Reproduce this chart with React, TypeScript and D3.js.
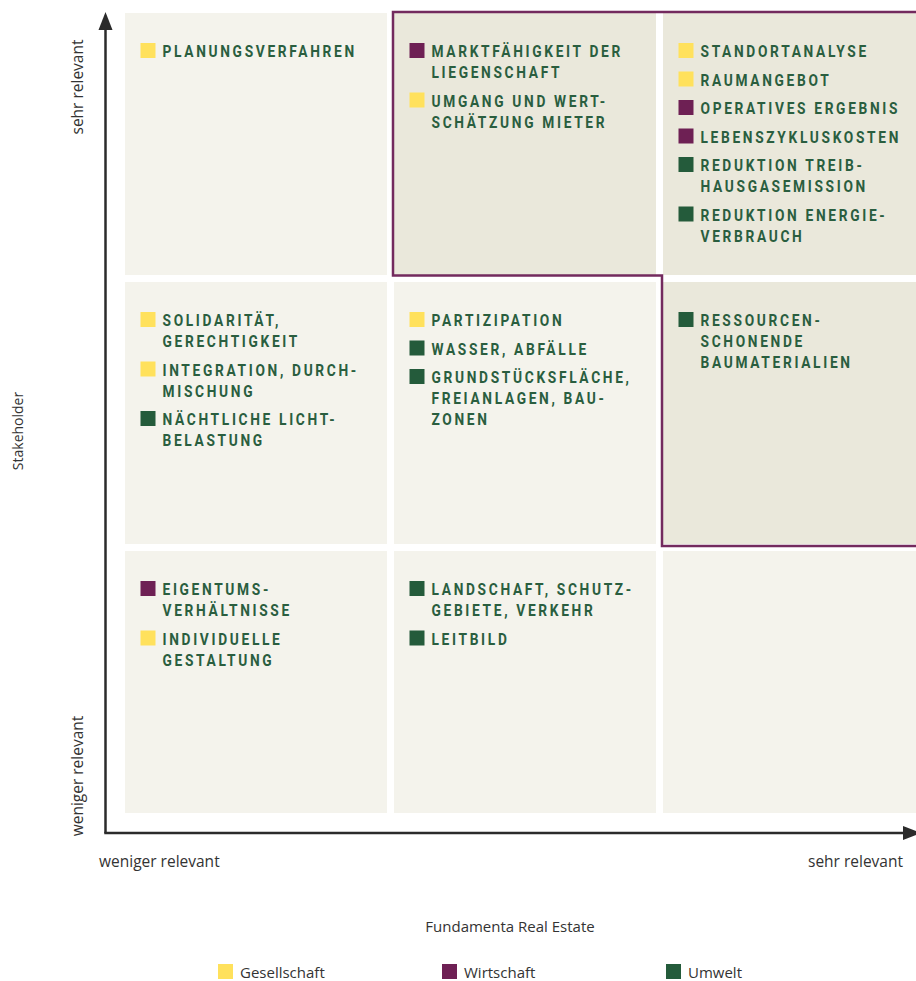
import React from "react";
import * as d3 from "d3";

const columns = ["weniger", "mittel", "sehr"];
const rows = ["sehr", "mittel", "weniger"];
const xTickLabels = ["weniger relevant", "sehr relevant"];
const yTickLabels = ["weniger relevant", "sehr relevant"];
const xTitle = "Fundamenta Real Estate";
const yTitle = "Stakeholder";
const categories = ["Gesellschaft", "Wirtschaft", "Umwelt"];
const highlighted = ["mittel|sehr", "sehr|sehr", "sehr|mittel"]; // col|row

type Item = { col: string; row: string; cat: string; lines: string[] };
const items: Item[] = [
  { col: "weniger", row: "sehr", cat: "Gesellschaft", lines: ["PLANUNGSVERFAHREN"] },
  { col: "mittel", row: "sehr", cat: "Wirtschaft", lines: ["MARKTFÄHIGKEIT DER", "LIEGENSCHAFT"] },
  { col: "mittel", row: "sehr", cat: "Gesellschaft", lines: ["UMGANG UND WERT-", "SCHÄTZUNG MIETER"] },
  { col: "sehr", row: "sehr", cat: "Gesellschaft", lines: ["STANDORTANALYSE"] },
  { col: "sehr", row: "sehr", cat: "Gesellschaft", lines: ["RAUMANGEBOT"] },
  { col: "sehr", row: "sehr", cat: "Wirtschaft", lines: ["OPERATIVES ERGEBNIS"] },
  { col: "sehr", row: "sehr", cat: "Wirtschaft", lines: ["LEBENSZYKLUSKOSTEN"] },
  { col: "sehr", row: "sehr", cat: "Umwelt", lines: ["REDUKTION TREIB-", "HAUSGASEMISSION"] },
  { col: "sehr", row: "sehr", cat: "Umwelt", lines: ["REDUKTION ENERGIE-", "VERBRAUCH"] },
  { col: "weniger", row: "mittel", cat: "Gesellschaft", lines: ["SOLIDARITÄT,", "GERECHTIGKEIT"] },
  { col: "weniger", row: "mittel", cat: "Gesellschaft", lines: ["INTEGRATION, DURCH-", "MISCHUNG"] },
  { col: "weniger", row: "mittel", cat: "Umwelt", lines: ["NÄCHTLICHE LICHT-", "BELASTUNG"] },
  { col: "mittel", row: "mittel", cat: "Gesellschaft", lines: ["PARTIZIPATION"] },
  { col: "mittel", row: "mittel", cat: "Umwelt", lines: ["WASSER, ABFÄLLE"] },
  { col: "mittel", row: "mittel", cat: "Umwelt", lines: ["GRUNDSTÜCKSFLÄCHE,", "FREIANLAGEN, BAU-", "ZONEN"] },
  { col: "sehr", row: "mittel", cat: "Umwelt", lines: ["RESSOURCEN-", "SCHONENDE", "BAUMATERIALIEN"] },
  { col: "weniger", row: "weniger", cat: "Wirtschaft", lines: ["EIGENTUMS-", "VERHÄLTNISSE"] },
  { col: "weniger", row: "weniger", cat: "Gesellschaft", lines: ["INDIVIDUELLE", "GESTALTUNG"] },
  { col: "mittel", row: "weniger", cat: "Umwelt", lines: ["LANDSCHAFT, SCHUTZ-", "GEBIETE, VERKEHR"] },
  { col: "mittel", row: "weniger", cat: "Umwelt", lines: ["LEITBILD"] },
];

const catColor: Record<string, string> = {
  Gesellschaft: "#FFE15C",
  Wirtschaft: "#6E2054",
  Umwelt: "#245B3B",
};

const W = 916;
const H = 981;
const LINE_H = 21;
const ITEM_GAP = 7.5;
const labelFont = "'Open Sans', 'Noto Sans', sans-serif";
const itemFont = "Roboto, 'Noto Sans', sans-serif";

export default function App() {
  const x = d3.scaleBand<string>().domain(columns).range([125, 925]).paddingInner(7 / 269).paddingOuter(0);
  const y = d3.scaleBand<string>().domain(rows).range([13, 813]).paddingInner(7 / 269).paddingOuter(0);
  const bw = x.bandwidth();
  const bh = y.bandwidth();

  const offsets: Record<string, number> = {};
  const placed = items.map((it) => {
    const key = it.col + "|" + it.row;
    const off = offsets[key] ?? 0;
    offsets[key] = off + it.lines.length * LINE_H + ITEM_GAP;
    return { ...it, x0: (x(it.col) as number) + 15.5, y0: (y(it.row) as number) + 30 + off };
  });

  const left = (x("mittel") as number) - 1;
  const top = (y("sehr") as number) - 1;
  const midY = (y("sehr") as number) + bh + 0.5;
  const midX = (x("sehr") as number) - 1;
  const bottom = (y("mittel") as number) + bh + 2;
  const outline = d3.path();
  outline.moveTo(940, top);
  outline.lineTo(left, top);
  outline.lineTo(left, midY);
  outline.lineTo(midX, midY);
  outline.lineTo(midX, bottom);
  outline.lineTo(940, bottom);

  const axisX = 105.5;
  const axisY = 833;
  const legendX = d3.scalePoint<string>().domain(categories).range([218, 666]);

  return (
    <svg
      width={W}
      height={H}
      viewBox={`0 0 ${W} ${H}`}
      style={{ position: "absolute", left: 0, top: 0, background: "#fff" }}
    >
      <rect x={0} y={0} width={W} height={H} fill="#fff" />
      {rows.map((r) =>
        columns.map((c) => (
          <rect
            key={c + r}
            x={x(c)}
            y={y(r)}
            width={bw}
            height={bh}
            fill={highlighted.includes(c + "|" + r) ? "#EAE8DB" : "#F4F3EC"}
          />
        ))
      )}
      <path d={outline.toString()} fill="none" stroke="#732A5E" strokeWidth={2.5} />

      {placed.map((it, i) => (
        <g key={i}>
          <rect x={it.x0} y={it.y0} width={15} height={15} fill={catColor[it.cat]} />
          <text
            transform={`translate(${it.x0 + 22},${it.y0 + 14.3}) scale(0.86,1)`}
            fontFamily={itemFont}
            fontWeight={700}
            fontSize={16}
            letterSpacing={3.1}
            fill="#2A5E3F"
          >
            {it.lines.map((l, j) => (
              <tspan key={j} x={0} dy={j === 0 ? 0 : LINE_H}>
                {l}
              </tspan>
            ))}
          </text>
        </g>
      ))}

      <line x1={axisX} y1={axisY} x2={axisX} y2={28} stroke="#2b2b2b" strokeWidth={2.5} />
      <path d={`M${axisX},12 L${axisX - 7},30 L${axisX + 7},30 Z`} fill="#2b2b2b" />
      <line x1={axisX - 1.25} y1={axisY} x2={904} y2={axisY} stroke="#2b2b2b" strokeWidth={2.5} />
      <path d={`M921,${axisY} L903,${axisY - 7} L903,${axisY + 7} Z`} fill="#2b2b2b" />

      <g fontFamily={labelFont} fill="#333">
        <g fontSize={15.5}>
          <text x={99} y={867}>{xTickLabels[0]}</text>
          <text x={903} y={867} textAnchor="end">{xTickLabels[1]}</text>
          <text transform={`translate(83,776) rotate(-90)`} textAnchor="middle">{yTickLabels[0]}</text>
          <text transform={`translate(83,87) rotate(-90)`} textAnchor="middle">{yTickLabels[1]}</text>
        </g>
        <text x={510} y={932} fontSize={15} textAnchor="middle">{xTitle}</text>
        <text transform={`translate(23,431) rotate(-90)`} fontSize={14} textAnchor="middle">{yTitle}</text>
      </g>

      {categories.map((c) => (
        <g key={c}>
          <rect x={legendX(c)} y={964} width={15} height={15} fill={catColor[c]} />
          <text x={(legendX(c) as number) + 22} y={977.5} fontFamily={labelFont} fontSize={15} fill="#333">
            {c}
          </text>
        </g>
      ))}
    </svg>
  );
}
